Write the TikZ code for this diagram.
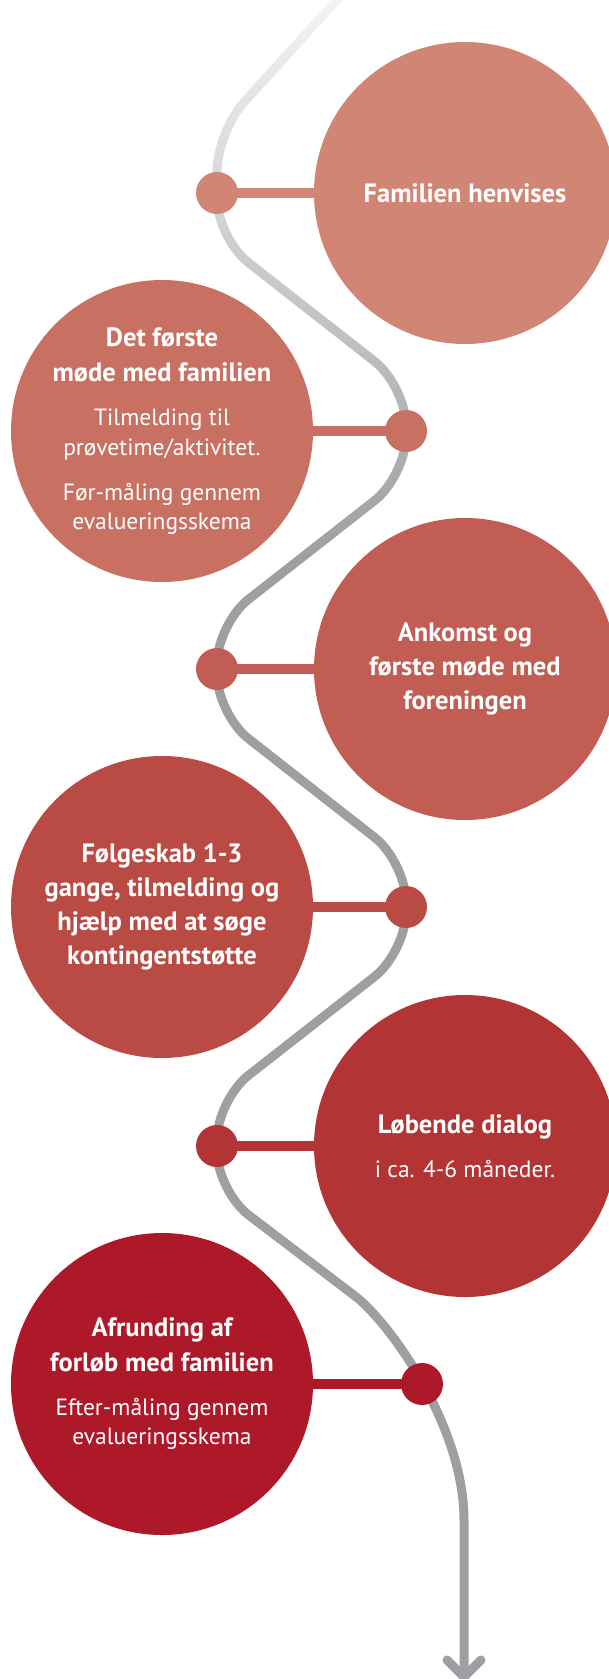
\documentclass[tikz,border=0pt]{standalone}
\usepackage{fontspec}
\setmainfont{PT Sans}
\usetikzlibrary{fadings}
\definecolor{cA}{HTML}{D08575}
\definecolor{cB}{HTML}{C87163}
\definecolor{cC}{HTML}{C15D52}
\definecolor{cD}{HTML}{B94A44}
\definecolor{cE}{HTML}{B23434}
\definecolor{cF}{HTML}{AD1928}
\definecolor{roadgray}{HTML}{9D9FA2}
\pgfdeclarelayer{bg}
\pgfsetlayers{bg,main}
\tikzfading[name=roadfade, top color=transparent!90, bottom color=transparent!0]
\newcommand{\regtxt}[1]{{\fontsize{23.5}{30}\selectfont\mdseries #1}}
\tikzset{
  stage/.style={circle, minimum size=302pt, inner sep=0pt, text=white, align=center,
    font=\fontsize{26.5}{35}\selectfont\bfseries},
  dotn/.style={circle, minimum size=42pt, inner sep=0pt},
  link/.style={line width=10pt},
  road/.style={line width=9pt, draw=roadgray, rounded corners=40pt},
  roadend/.style={line width=9pt, draw=roadgray}
}
\begin{document}
\begin{tikzpicture}[x=1pt, y=-1pt]
\useasboundingbox (0,0) rectangle (608,1679);
% stages
\node[stage, fill=cA] (s1) at (465,193) {Familien henvises};
\node[stage, fill=cB] (s2) at (162,431) {Det første\\møde med familien\\[9pt]\regtxt{Tilmelding til}\\[-5pt]\regtxt{prøvetime/aktivitet.}\\[10pt]\regtxt{Før-måling gennem}\\[-6pt]\regtxt{evalueringsskema}};
\node[stage, fill=cC, font=\fontsize{26.5}{34}\selectfont\bfseries] (s3) at (465,669) {Ankomst og\\første møde med\\foreningen};
\node[stage, fill=cD, font=\fontsize{26.5}{34}\selectfont\bfseries] (s4) at (162,907) {Følgeskab 1-3\\gange, tilmelding og\\hjælp med at søge\\kontingentstøtte};
\node[stage, fill=cE] (s5) at (465,1146) {Løbende dialog\\[9pt]\regtxt{i ca. 4-6 måneder.}};
\node[stage, fill=cF] (s6) at (162,1384) {Afrunding af\\forløb med familien\\[9pt]\regtxt{Efter-måling gennem}\\[-6pt]\regtxt{evalueringsskema}};
% dots
\node[dotn, fill=cA] (d1) at (217,193) {};
\node[dotn, fill=cB] (d2) at (406,431) {};
\node[dotn, fill=cC] (d3) at (217,669) {};
\node[dotn, fill=cD] (d4) at (406,907) {};
\node[dotn, fill=cE] (d5) at (217,1146) {};
\node[dotn, fill=cF] (d6) at (422,1384) {};
% road waypoints
\coordinate (r0) at (345,-9);
\coordinate (r1) at (217,132);
\coordinate (r2) at (217,238);
\coordinate (r3) at (406,386);
\coordinate (r4) at (406,476);
\coordinate (rm) at (311.5,550);
\coordinate (r5) at (217,624);
\coordinate (r6) at (217,714);
\coordinate (r7) at (406,862);
\coordinate (r8) at (406,952);
\coordinate (r9) at (217,1100);
\coordinate (r10) at (217,1191);
\coordinate (r11) at (355,1296);
\coordinate (r12) at (464,1520);
\coordinate (tip) at (464,1677);
\begin{pgfonlayer}{bg}
\draw[road, path fading=roadfade] (r0) -- (r1) -- (r2) -- (r3) -- (r4) -- (rm);
\draw[road] (rm) -- (r5) -- (r6) -- (r7) -- (r8) -- (r9) -- (r10) -- (r11);
\draw[roadend] (r11) .. controls (388.4,1321.4) and (464,1425) .. (r12) -- (tip);
\draw[roadend, line cap=round, line join=round] ([shift={(-17,-17)}]tip) -- (tip) -- ([shift={(17,-17)}]tip);
\draw[link, cA] (d1.center) -- (s1.center);
\draw[link, cB] (d2.center) -- (s2.center);
\draw[link, cC] (d3.center) -- (s3.center);
\draw[link, cD] (d4.center) -- (s4.center);
\draw[link, cE] (d5.center) -- (s5.center);
\draw[link, cF] (d6.center) -- (s6.center);
\end{pgfonlayer}
\end{tikzpicture}
\end{document}
